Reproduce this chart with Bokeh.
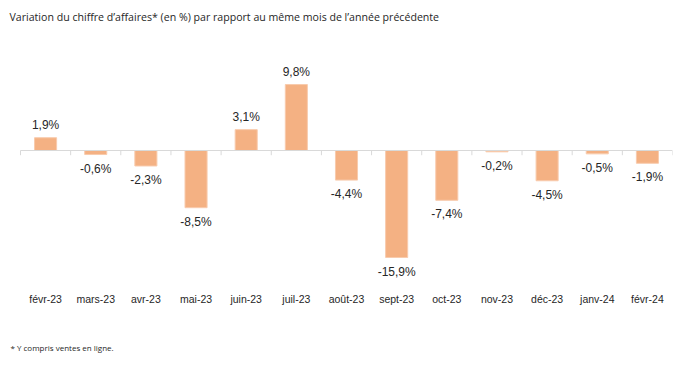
from bokeh.plotting import figure
from bokeh.layouts import column
from bokeh.models import Range1d, FixedTicker, ColumnDataSource
from bokeh.core.properties import value
from bokeh.embed import file_html
from bokeh.resources import INLINE

months = ["févr-23", "mars-23", "avr-23", "mai-23", "juin-23", "juil-23", "août-23",
          "sept-23", "oct-23", "nov-23", "déc-23", "janv-24", "févr-24"]
variation = [1.9, -0.6, -2.3, -8.5, 3.1, 9.8, -4.4, -15.9, -7.4, -0.2, -4.5, -0.5, -1.9]
title_text = "Variation du chiffre d\u2019affaires* (en %) par rapport au même mois de l\u2019année précédente"
footnote = "* Y compris ventes en ligne."

W = 684
RB = 12          # right border
LEFT_PAD = 20    # blank space left of the category area (px)
n = len(months)
xs = [i + 0.5 for i in range(n)]
labels = [f"{v:.1f}".replace(".", ",") + "%" for v in variation]
pos = [v >= 0 for v in variation]


def text_strip(h, txt, x, y, size):
    f = figure(width=W, height=h, output_backend="svg", toolbar_location=None,
               x_range=Range1d(0, W - RB), y_range=Range1d(h, 0),
               x_axis_type=None, y_axis_type=None,
               min_border_left=0, min_border_right=RB, min_border_top=0, min_border_bottom=0)
    f.outline_line_color = None
    f.xgrid.visible = False
    f.ygrid.visible = False
    f.text(x=[x], y=[y], text=[txt], text_align="left", text_baseline="middle",
           text_font=value("Open Sans"), text_font_size=size, text_color="#262626")
    return f


top = text_strip(30, title_text, 9, 16, "10.6px")

cat_px = (W - RB - LEFT_PAD) / n
p = figure(width=W, height=305, output_backend="svg", toolbar_location=None,
           x_range=Range1d(-LEFT_PAD / cat_px, n), y_range=Range1d(-20.06, 17.83),
           min_border_left=0, min_border_right=RB, min_border_top=0, min_border_bottom=50)
p.outline_line_color = None
p.xgrid.visible = False
p.ygrid.visible = False
p.yaxis.visible = False

src = ColumnDataSource(dict(x=xs, top=variation, lab=labels))
p.vbar(x="x", top="top", bottom=0, width=0.44, source=src,
       fill_color="#F4B183", line_color="#F8CBAD", line_width=1)

# zero line and boundary ticks
p.segment(x0=[0], y0=[0], x1=[n], y1=[0], line_color="#D9D9D9", line_width=1)
p.segment(x0=list(range(n + 1)), y0=[0] * (n + 1), x1=list(range(n + 1)), y1=[-0.7] * (n + 1),
          line_color="#D9D9D9", line_width=1)

psrc = ColumnDataSource(dict(x=[x for x, q in zip(xs, pos) if q],
                             y=[v for v, q in zip(variation, pos) if q],
                             t=[l for l, q in zip(labels, pos) if q]))
nsrc = ColumnDataSource(dict(x=[x for x, q in zip(xs, pos) if not q],
                             y=[v for v, q in zip(variation, pos) if not q],
                             t=[l for l, q in zip(labels, pos) if not q]))
for s, off in ((psrc, -13), (nsrc, 14)):
    p.text(x="x", y="y", text="t", source=s, text_align="center", text_baseline="middle",
           y_offset=off, text_font=value("Liberation Sans"), text_font_size="12px",
           text_color="#262626")

ax = p.xaxis[0]
ax.ticker = FixedTicker(ticks=xs)
ax.major_label_overrides = {x: m for x, m in zip(xs, months)}
ax.axis_line_color = None
ax.major_tick_line_color = None
ax.minor_tick_line_color = None
ax.major_tick_out = 0
ax.major_tick_in = 0
ax.major_label_standoff = 7
ax.major_label_text_font = "Liberation Sans"
ax.major_label_text_font_size = "10.5px"
ax.major_label_text_color = "#262626"

bottom = text_strip(32, footnote, 10, 12, "8px")

layout = column(top, p, bottom, spacing=0)
open("out.html", "w").write(file_html(layout, INLINE))
